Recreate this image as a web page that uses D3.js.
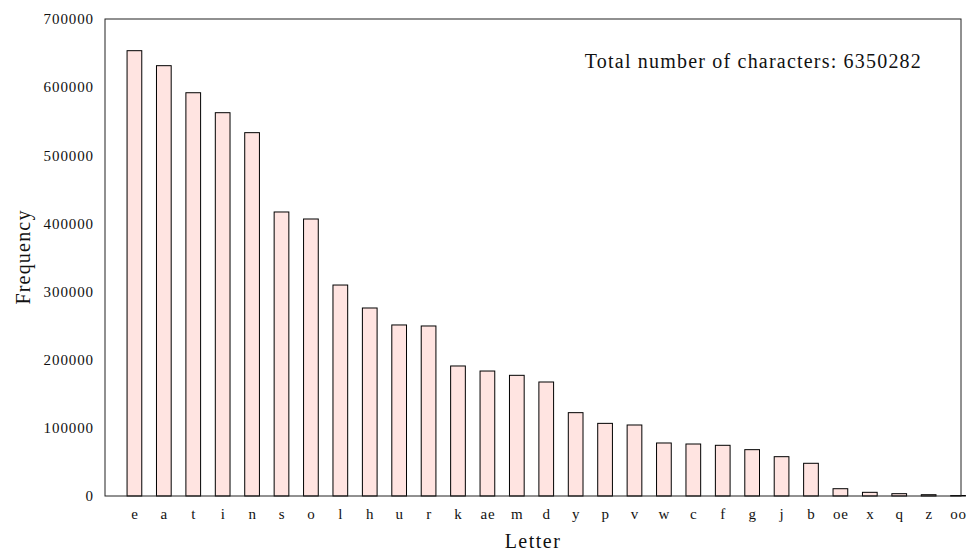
<!DOCTYPE html>
<html><head><meta charset="utf-8">
<script src="https://cdn.jsdelivr.net/npm/d3@7"></script>
<style>body{margin:0;background:#fff}svg{display:block}text{font-family:"Liberation Serif","DejaVu Serif",serif;fill:#111}</style>
</head><body>
<script>
const letters = ["e","a","t","i","n","s","o","l","h","u","r","k","ae","m","d","y","p","v","w","c","f","g","j","b","oe","x","q","z","oo"];
const frequencies = [653500,631500,591800,562500,533200,416800,406500,309600,275900,251000,249500,190800,183400,177100,167300,122300,106600,104200,77800,76300,74400,68000,57700,48000,10700,5400,3400,1900,700];
const yTicks = [0,100000,200000,300000,400000,500000,600000,700000];
const totalChars = 6350282;

const W=970,H=552, L=105,T=19,R=961,B=496;
const svg=d3.select("body").append("svg").attr("width",W).attr("height",H);
const x=d3.scaleLinear().domain([-1,28.1]).range([L,R]);
const y=d3.scaleLinear().domain([0,700000]).range([B,T]);
const step=x(1)-x(0), bw=step*0.5;

svg.append("g").selectAll("rect").data(frequencies).join("rect")
  .attr("x",(d,i)=>x(i)-bw/2).attr("y",d=>y(d)).attr("width",bw).attr("height",d=>B-y(d))
  .attr("fill","#ffe4e1").attr("stroke","#000").attr("stroke-width",1);

svg.append("rect").attr("x",L).attr("y",T).attr("width",R-L).attr("height",B-T)
  .attr("fill","none").attr("stroke","#222").attr("stroke-width",1);

const ya=d3.axisLeft(y).tickValues(yTicks).tickSize(0).tickPadding(11).tickFormat(d3.format("d"));
const gy=svg.append("g").attr("transform",`translate(${L},0)`).call(ya);
gy.select(".domain").remove();
gy.selectAll("text").style("font-size","15px").style("letter-spacing","0.9px").attr("fill","#111");

const xa=d3.axisBottom(d3.scalePoint().domain(letters).range([x(0),x(28)])).tickSize(0).tickPadding(12);
const gx=svg.append("g").attr("transform",`translate(0,${B})`).call(xa);
gx.select(".domain").remove();
gx.selectAll("text").style("font-size","15px").style("letter-spacing","0.8px").attr("fill","#111");

svg.append("text").attr("x",922).attr("y",68).attr("text-anchor","end").style("font-size","20px").style("letter-spacing","1.2px").text("Total number of characters: "+totalChars);
svg.append("text").attr("x",533).attr("y",548).attr("text-anchor","middle").style("font-size","20px").style("letter-spacing","1.5px").text("Letter");
svg.append("text").attr("transform","translate(30,257) rotate(-90)").attr("text-anchor","middle").style("font-size","20px").style("letter-spacing","1.2px").text("Frequency");
</script>
</body></html>
